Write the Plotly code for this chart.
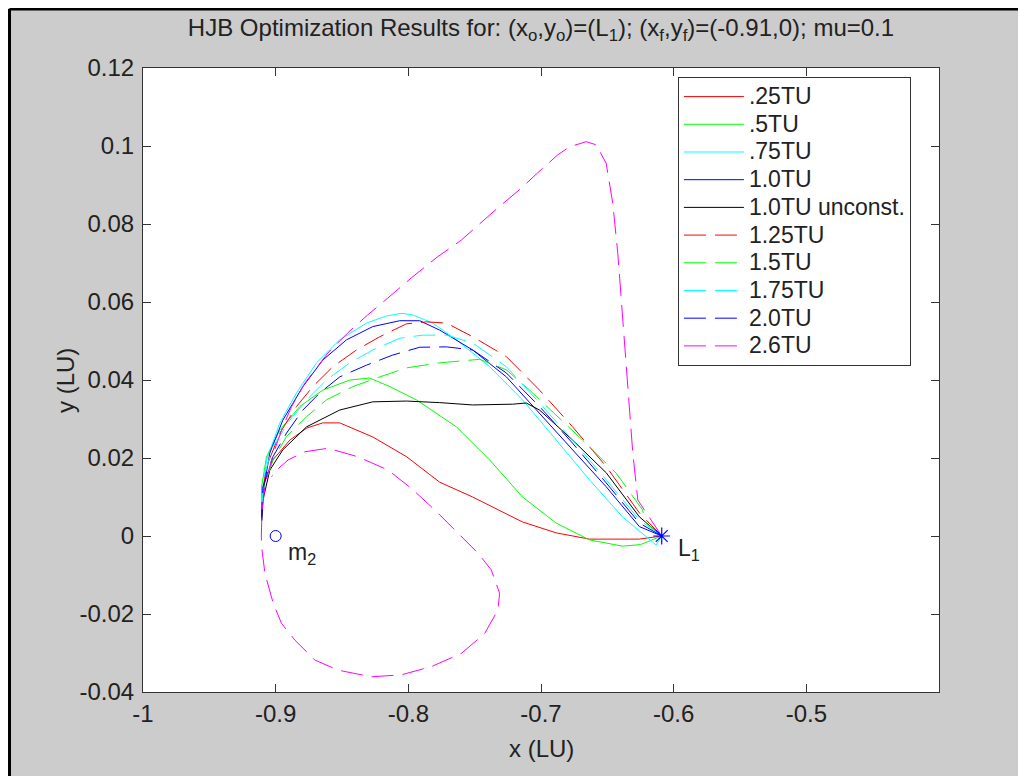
import plotly.graph_objects as go

# trajectories, L1 -> (-0.91, 0)
L1_X, L1_Y = -0.609, 0.0
M2_X, M2_Y = -0.9, 0.0

x_025 = [-0.609, -0.6258, -0.6634, -0.6885, -0.7139, -0.7515, -0.7764, -0.8012, -0.8268, -0.8517,
         -0.8645, -0.8765, -0.8893, -0.9021, -0.9096, -0.9104, -0.9106]
y_025 = [0.0, -0.0008, -0.0008, 0.0008, 0.0036, 0.0100, 0.0138, 0.0203, 0.0254, 0.0290,
         0.0290, 0.0277, 0.0246, 0.0195, 0.0126, 0.0059, 0.004]

x_05 = [-0.609, -0.6250, -0.6386, -0.6634, -0.6885, -0.7139, -0.7387, -0.7638, -0.7939, -0.8139,
        -0.8291, -0.8441, -0.8645, -0.8818, -0.8968, -0.9069, -0.9106, -0.9106]
y_05 = [0.0, -0.0022, -0.0026, -0.0010, 0.0033, 0.0100, 0.0195, 0.0280, 0.0349, 0.0383,
        0.0405, 0.0400, 0.0374, 0.0332, 0.0272, 0.0203, 0.0126, 0.004]

x_075 = [-0.609, -0.6132, -0.6386, -0.6634, -0.6885, -0.7139, -0.7387, -0.7638, -0.7816, -0.7967,
         -0.8052, -0.8165, -0.8316, -0.8517, -0.8692, -0.8843, -0.8968, -0.9069, -0.9106, -0.9106]
y_075 = [0.0, -0.0023, 0.0049, 0.0144, 0.0246, 0.0349, 0.0434, 0.0503, 0.0546, 0.0567,
         0.0571, 0.0564, 0.0546, 0.0503, 0.0444, 0.0367, 0.0290, 0.0195, 0.0092, 0.004]

x_10 = [-0.609, -0.6258, -0.6508, -0.6762, -0.7011, -0.7261, -0.7515, -0.7764, -0.7914, -0.8065,
        -0.8268, -0.8466, -0.8645, -0.8795, -0.8946, -0.9044, -0.9096, -0.9106]
y_10 = [0.0, 0.0024, 0.0126, 0.0221, 0.0315, 0.0408, 0.0477, 0.0528, 0.0552, 0.0552,
        0.0537, 0.0503, 0.0451, 0.0383, 0.0297, 0.0213, 0.0110, 0.004]

x_10u = [-0.609, -0.6258, -0.6508, -0.6762, -0.7011, -0.7111, -0.7214, -0.7515, -0.7764, -0.8014,
         -0.8268, -0.8517, -0.8767, -0.8946, -0.9044, -0.9096, -0.9106]
y_10u = [0.0, 0.0049, 0.0162, 0.0246, 0.0323, 0.0341, 0.0338, 0.0336, 0.0342, 0.0346,
         0.0344, 0.0323, 0.0280, 0.0221, 0.0169, 0.0092, 0.004]

x_125 = [-0.609, -0.6258, -0.6508, -0.6762, -0.7011, -0.7261, -0.7515, -0.7713, -0.7864, -0.8014,
         -0.8215, -0.8391, -0.8569, -0.8720, -0.8843, -0.8968, -0.9069, -0.9106, -0.9106]
y_125 = [0.0, 0.0059, 0.0178, 0.0280, 0.0374, 0.0460, 0.0511, 0.0546, 0.0549, 0.0544,
         0.0511, 0.0477, 0.0434, 0.0383, 0.0332, 0.0264, 0.0178, 0.0092, 0.004]

x_15 = [-0.609, -0.6208, -0.6235, -0.6433, -0.6687, -0.6885, -0.7086, -0.7261, -0.7462, -0.7764,
        -0.8014, -0.8215, -0.8419, -0.8617, -0.8767, -0.8918, -0.9021, -0.9096, -0.9106]
y_15 = [0.0, 0.0033, 0.0067, 0.0161, 0.0246, 0.0310, 0.0374, 0.0426, 0.0453, 0.0444,
        0.0431, 0.0408, 0.0383, 0.0349, 0.0306, 0.0255, 0.0195, 0.0118, 0.004]

x_175 = [-0.609, -0.6258, -0.6508, -0.6762, -0.7011, -0.7261, -0.7515, -0.7713, -0.7892, -0.8065,
         -0.8268, -0.8441, -0.8617, -0.8767, -0.8893, -0.9021, -0.9096, -0.9106]
y_175 = [0.0, 0.0041, 0.0144, 0.0246, 0.0341, 0.0434, 0.0495, 0.0515, 0.0515, 0.0507,
         0.0477, 0.0444, 0.0400, 0.0349, 0.0297, 0.0229, 0.0144, 0.004]

x_20 = [-0.609, -0.6258, -0.6508, -0.6762, -0.7011, -0.7261, -0.7515, -0.7713, -0.7914, -0.8117,
        -0.8316, -0.8517, -0.8667, -0.8795, -0.8918, -0.9021, -0.9096, -0.9106]
y_20 = [0.0, 0.0033, 0.0136, 0.0238, 0.0332, 0.0418, 0.0477, 0.0485, 0.0484, 0.0464,
        0.0438, 0.0408, 0.0367, 0.0323, 0.0264, 0.0203, 0.0126, 0.004]

x_26 = [-0.609, -0.6270, -0.6308, -0.6346, -0.6383, -0.6421, -0.6459, -0.6509, -0.6584, -0.6659,
        -0.6785, -0.6875, -0.7026, -0.7148, -0.7327, -0.7600, -0.7779, -0.7977, -0.8155, -0.8306,
        -0.8456, -0.8607, -0.8780, -0.8880, -0.8946, -0.9021, -0.9081, -0.9104, -0.9108, -0.9106,
        -0.9081, -0.9018, -0.8956, -0.8855, -0.8705, -0.8529, -0.8278, -0.8053, -0.7827, -0.7600,
        -0.7425, -0.7325, -0.7312, -0.7375, -0.7475, -0.7627, -0.7801, -0.7977, -0.8153, -0.8379,
        -0.8605, -0.8780, -0.8906, -0.8993, -0.9031]
y_26 = [0.0, 0.0092, 0.0212, 0.0383, 0.0554, 0.0725, 0.0853, 0.0956, 0.1003, 0.1011,
        0.0998, 0.0977, 0.0931, 0.0892, 0.0841, 0.0759, 0.0716, 0.0662, 0.0610, 0.0567,
        0.0521, 0.0469, 0.0392, 0.0332, 0.0280, 0.0208, 0.0131, 0.0054, 0.0, -0.0027,
        -0.0096, -0.0173, -0.0224, -0.0267, -0.0318, -0.0344, -0.0361, -0.0356, -0.0335, -0.0301,
        -0.0250, -0.0190, -0.0147, -0.0087, -0.0044, 0.0007, 0.0067, 0.0122, 0.0169, 0.0203,
        0.0225, 0.0216, 0.0195, 0.0169, 0.0152]

names = [".25TU", ".5TU", ".75TU", "1.0TU", "1.0TU unconst.",
         "1.25TU", "1.5TU", "1.75TU", "2.0TU", "2.6TU"]
xs = [x_025, x_05, x_075, x_10, x_10u, x_125, x_15, x_175, x_20, x_26]
ys = [y_025, y_05, y_075, y_10, y_10u, y_125, y_15, y_175, y_20, y_26]

x_ticks = [-1, -0.9, -0.8, -0.7, -0.6, -0.5]
x_ticktext = ["-1", "-0.9", "-0.8", "-0.7", "-0.6", "-0.5"]
y_ticks = [-0.04, -0.02, 0, 0.02, 0.04, 0.06, 0.08, 0.1, 0.12]
y_ticktext = ["-0.04", "-0.02", "0", "0.02", "0.04", "0.06", "0.08", "0.1", "0.12"]

colors = ["#ff0000", "#00ff00", "#00ffff", "#0000ff", "#000000",
          "#ff0000", "#00ff00", "#00ffff", "#0000ff", "#ff00ff"]
dashes = ["solid"] * 5 + ["22px,9px"] * 5

FONT = "Liberation Sans, Arial, sans-serif"
TXT = "#222222"
FS = 24

fig = go.Figure()
for name, x, y, c, d in zip(names, xs, ys, colors, dashes):
    fig.add_trace(go.Scatter(
        x=x, y=y, mode="lines", legendgroup=name,
        # legend rows are spaced by the legend font (19px); the label itself is drawn larger
        name=f'<span style="font-size:23px">{name}</span>',
        line=dict(color=c, width=1, dash=d),
    ))

# primary body and libration point markers
fig.add_trace(go.Scatter(
    x=[M2_X], y=[M2_Y], mode="markers", showlegend=False,
    marker=dict(symbol="circle-open", size=11, color="#0000ff", line=dict(width=1)),
))
fig.add_trace(go.Scatter(
    x=[L1_X], y=[L1_Y], mode="markers", showlegend=False,
    marker=dict(symbol="asterisk-open", size=14, color="#0000ff", line=dict(width=1.2, color="#0000ff")),
))

fig.add_annotation(x=-0.8925, y=-0.0045, text="m<sub>2</sub>", showarrow=False,
                   xanchor="left", yanchor="middle", font=dict(family=FONT, size=23, color=TXT))
fig.add_annotation(x=-0.5985, y=-0.0035, text="L<sub>1</sub>", showarrow=False,
                   xanchor="left", yanchor="middle", font=dict(family=FONT, size=23, color=TXT))

# axis titles
fig.add_annotation(xref="paper", yref="paper", x=0.5, y=-0.09, text="x (LU)", showarrow=False,
                   xanchor="center", yanchor="middle", font=dict(family=FONT, size=FS, color=TXT))
fig.add_annotation(xref="paper", yref="paper", x=-0.098, y=0.5, text="y (LU)", showarrow=False,
                   textangle=-90, xanchor="center", yanchor="middle",
                   font=dict(family=FONT, size=FS, color=TXT))

# window frame edges (top and left) of the original screenshot
fig.add_shape(type="line", xref="paper", yref="paper", x0=-0.1677, x1=1.12, y0=1.0946, y1=1.0946,
              line=dict(color="black", width=3))
fig.add_shape(type="line", xref="paper", yref="paper", x0=-0.1677, x1=-0.1677, y0=-0.15, y1=1.0946,
              line=dict(color="black", width=3))

axis_common = dict(
    showgrid=False, zeroline=False, showline=True, linecolor="#333333", linewidth=1,
    mirror="ticks", ticks="inside", ticklen=8, tickcolor="#333333",
    tickfont=dict(family=FONT, size=FS, color=TXT),
)
fig.update_xaxes(range=[-1, -0.4], tickvals=x_ticks, ticktext=x_ticktext, **axis_common)
fig.update_yaxes(range=[-0.04, 0.12], tickvals=y_ticks, ticktext=y_ticktext,
                 ticklabelstandoff=3, **axis_common)

# the page body has an 8px margin: margins shifted so the plot area lands where it should
fig.update_layout(
    width=1018, height=768,
    margin=dict(l=135, r=87, t=60, b=84),
    paper_bgcolor="#cccccc", plot_bgcolor="white",
    title=dict(
        text="HJB Optimization Results for: (x<sub>o</sub>,y<sub>o</sub>)=(L<sub>1</sub>); "
             "(x<sub>f</sub>,y<sub>f</sub>)=(-0.91,0); mu=0.1",
        x=0.5, xref="paper", xanchor="center", y=0.974, yanchor="middle",
        font=dict(family=FONT, size=FS, color=TXT),
    ),
    legend=dict(
        x=0.672, y=0.986, xanchor="left", yanchor="top",
        bgcolor="white", bordercolor="#333333", borderwidth=1,
        font=dict(family=FONT, size=19, color=TXT),
        tracegroupgap=0, itemwidth=60,
    ),
    showlegend=True,
)

fig.write_html("out.html")
